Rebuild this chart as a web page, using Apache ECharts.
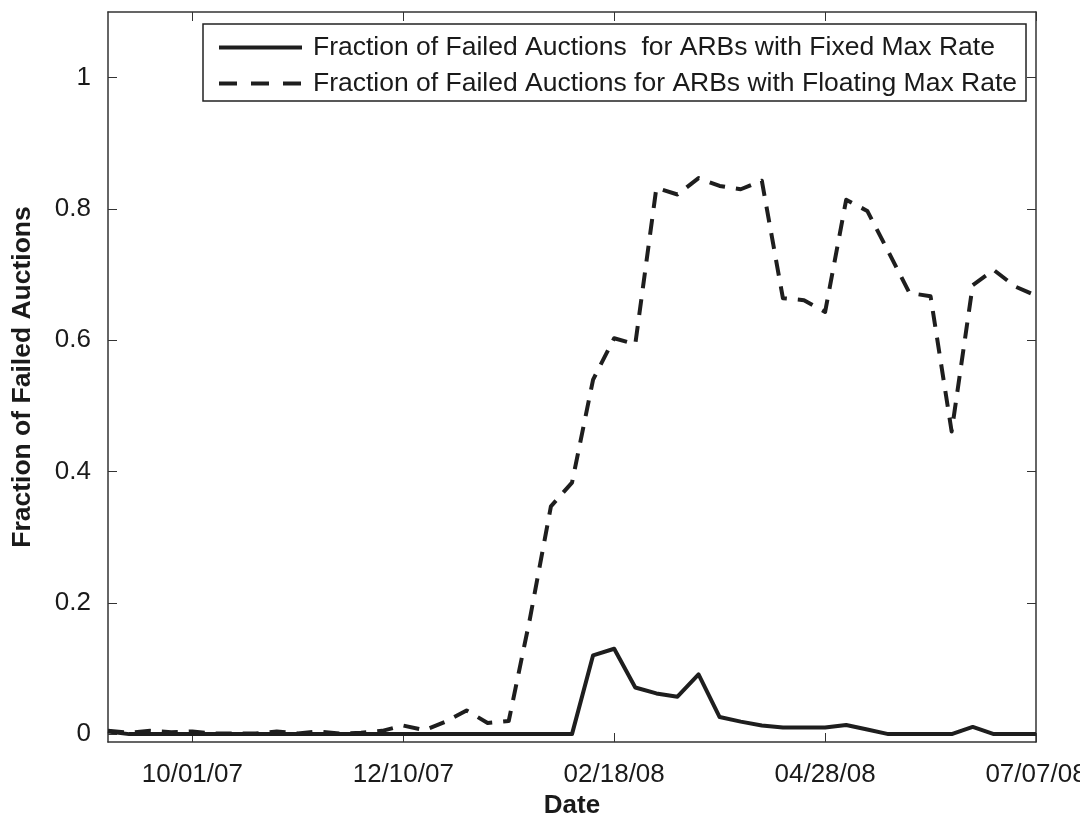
<!DOCTYPE html>
<html>
<head>
<meta charset="utf-8">
<script src="https://cdn.jsdelivr.net/npm/echarts@6/dist/echarts.min.js"></script>
<style>
html,body{margin:0;padding:0;background:#fff;}
#chart{width:1080px;height:817px;}
</style>
</head>
<body>
<div id="chart"></div>
<script>
const dates = ['09/03/07','09/10/07','09/17/07','09/24/07','10/01/07','10/08/07','10/15/07','10/22/07','10/29/07','11/05/07',
  '11/12/07','11/19/07','11/26/07','12/03/07','12/10/07','12/17/07','12/24/07','12/31/07','01/07/08','01/14/08',
  '01/21/08','01/28/08','02/04/08','02/11/08','02/18/08','02/25/08','03/03/08','03/10/08','03/17/08','03/24/08',
  '03/31/08','04/07/08','04/14/08','04/21/08','04/28/08','05/05/08','05/12/08','05/19/08','05/26/08','06/02/08',
  '06/09/08','06/16/08','06/23/08','06/30/08','07/07/08'];
const tickDates = ['10/01/07','12/10/07','02/18/08','04/28/08','07/07/08'];
const fixedRate = [0.004,0,0,0,0,0,0,0,0,0,
  0,0,0,0,0,0,0,0,0,0,
  0,0,0,0.12,0.13,0.071,0.062,0.057,0.091,0.026,
  0.019,0.013,0.01,0.01,0.01,0.014,0.007,0,0,0,
  0,0.011,0,0,0];
const floatingRate = [0.005,0.002,0.005,0.003,0.004,0.001,0.001,0.001,0.004,0.001,
  0.004,0.001,0.002,0.005,0.013,0.006,0.019,0.036,0.017,0.02,
  0.175,0.347,0.383,0.54,0.603,0.594,0.832,0.822,0.847,0.835,
  0.83,0.843,0.664,0.661,0.643,0.814,0.797,0.735,0.672,0.667,
  0.461,0.684,0.707,0.682,0.668];
const yTicks = [0, 0.2, 0.4, 0.6, 0.8, 1];
const seriesNames = ['Fraction of Failed Auctions  for ARBs with Fixed Max Rate',
  'Fraction of Failed Auctions for ARBs with Floating Max Rate'];

const FONT = "'Liberation Sans', Arial, Helvetica, sans-serif";
const TXT = '#1a1a1a';
const AX = '#333333';
const LINE = '#1e1e1e';
const showTick = (i, v) => tickDates.indexOf(v) >= 0;
const hiddenSymbol = {color: 'rgba(0,0,0,0)', borderWidth: 0, opacity: 0};

const chart = echarts.init(document.getElementById('chart'), null, {renderer: 'canvas'});
chart.setOption({
  animation: false,
  backgroundColor: '#ffffff',
  textStyle: {fontFamily: FONT},
  grid: {left: 108, right: 44, top: 12, bottom: 75, containLabel: false, outerBoundsMode: 'none'},
  legend: {
    orient: 'vertical',
    left: 203, top: 24,
    padding: [10, 9, 4, 14],
    itemGap: 9,
    itemWidth: 83, itemHeight: 24,
    borderColor: '#222', borderWidth: 1.5,
    backgroundColor: '#fff',
    itemStyle: hiddenSymbol,
    lineStyle: {width: 4},
    textStyle: {fontSize: 26.5, color: TXT, fontFamily: FONT, padding: [0, 0, 0, 6]},
    data: [
      {name: seriesNames[0], itemStyle: hiddenSymbol, lineStyle: {width: 4}},
      {name: seriesNames[1], itemStyle: hiddenSymbol, lineStyle: {width: 4, type: [18, 14]}}
    ]
  },
  xAxis: [{
    type: 'category', data: dates, boundaryGap: false,
    axisLine: {onZero: false, lineStyle: {color: AX, width: 1.5}},
    axisTick: {inside: true, length: 9, interval: showTick, lineStyle: {color: AX, width: 1}},
    axisLabel: {interval: showTick, fontSize: 26, color: TXT, margin: 20, fontFamily: FONT},
    splitLine: {show: false},
    name: 'Date', nameLocation: 'middle', nameGap: 50,
    nameTextStyle: {fontSize: 26, fontWeight: 'bold', color: TXT, fontFamily: FONT}
  }, {
    type: 'category', data: dates, boundaryGap: false, position: 'top',
    axisLine: {onZero: false, lineStyle: {color: AX, width: 1.5}},
    axisTick: {inside: true, length: 9, interval: showTick, lineStyle: {color: AX, width: 1}},
    axisLabel: {show: false}, splitLine: {show: false}
  }],
  yAxis: [{
    type: 'value', min: -0.012, max: 1.1,
    axisLine: {show: true, onZero: false, lineStyle: {color: AX, width: 1.5}},
    axisTick: {show: true, inside: true, length: 9, customValues: yTicks, lineStyle: {color: AX, width: 1}},
    axisLabel: {customValues: yTicks, fontSize: 26, color: TXT, margin: 17, fontFamily: FONT},
    splitLine: {show: false},
    name: 'Fraction of Failed Auctions', nameLocation: 'middle', nameGap: 72,
    nameTextStyle: {fontSize: 26.5, fontWeight: 'bold', color: TXT, fontFamily: FONT}
  }, {
    type: 'value', min: -0.012, max: 1.1, position: 'right',
    axisLine: {show: true, onZero: false, lineStyle: {color: AX, width: 1.5}},
    axisTick: {show: true, inside: true, length: 9, customValues: yTicks, lineStyle: {color: AX, width: 1}},
    axisLabel: {show: false}, splitLine: {show: false}
  }],
  series: [{
    name: seriesNames[0], type: 'line', data: fixedRate,
    xAxisIndex: 0, yAxisIndex: 0,
    symbol: 'none', smooth: false,
    lineStyle: {color: LINE, width: 4, type: 'solid', join: 'round'},
    itemStyle: {color: LINE}
  }, {
    name: seriesNames[1], type: 'line', data: floatingRate,
    xAxisIndex: 0, yAxisIndex: 0,
    symbol: 'none', smooth: false,
    lineStyle: {color: LINE, width: 4, type: [16, 11], join: 'round'},
    itemStyle: {color: LINE}
  }]
});
</script>
</body>
</html>
